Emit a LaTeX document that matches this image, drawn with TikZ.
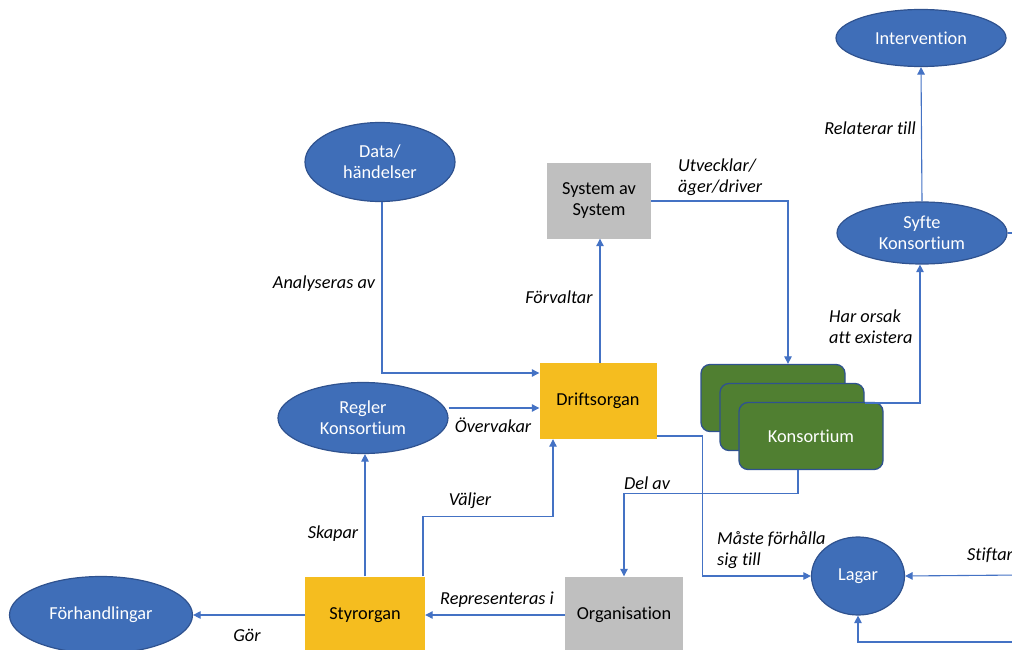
\documentclass[tikz,border=0pt]{standalone}
\usepackage{fontspec}
\setmainfont{Carlito}[Ligatures=NoCommon]
\usetikzlibrary{shapes.geometric,arrows.meta}
\definecolor{blobblue}{HTML}{3F6EB8}
\definecolor{edgeblue}{HTML}{2F528F}
\definecolor{lineblue}{HTML}{4472C4}
\definecolor{orggold}{HTML}{F5BD1F}
\definecolor{orggray}{HTML}{BFBFBF}
\definecolor{konsgreen}{HTML}{507F31}
\tikzset{
	blob/.style={ellipse, draw=edgeblue, fill=blobblue, line width=1.2pt, text=white,
		align=center, inner sep=0pt, font=\fontsize{18.3}{21}\selectfont},
	box/.style={rectangle, inner sep=0pt, align=center, font=\fontsize{18.3}{21}\selectfont},
	kons/.style={rectangle, rounded corners=9pt, draw=edgeblue, fill=konsgreen, line width=1.3pt,
		text=white, minimum width=144pt, minimum height=67pt, font=\fontsize{18.3}{21}\selectfont},
	lbl/.style={align=left, inner sep=0pt, font=\fontsize{18.3}{21}\selectfont\itshape},
	conn/.style={draw=lineblue, line width=1.1pt, -{Triangle[width=7.5pt,length=7.5pt]}},
	wire/.style={draw=lineblue, line width=1.1pt}
}
\begin{document}
\begin{tikzpicture}[x=1pt,y=-1pt]
	\path[use as bounding box, clip] (0,0) rectangle (1012,650);
	\node[blob, minimum width=170pt, minimum height=57pt] at (921,38) (intervention) {Intervention};
	\node[blob, minimum width=170pt, minimum height=62pt] at (922,233) (syfte) {Syfte\\Konsortium};
	\node[blob, minimum width=150pt, minimum height=79pt] at (380,162) (data) {Data/\\händelser};
	\node[blob, minimum width=170pt, minimum height=71pt] at (363,418) (regler) {Regler\\Konsortium};
	\node[blob, minimum width=183pt, minimum height=77pt] at (101,615) (forh) {Förhandlingar};
	\node[blob, minimum width=93pt, minimum height=78pt] at (858,576) (lagar) {Lagar};
	\node[box, fill=orggray, minimum width=104pt, minimum height=75pt] at (599,201) (system) {System av\\System};
	\node[box, fill=orggold, minimum width=117pt, minimum height=76pt] at (598,401) (drift) {Driftsorgan};
	\node[box, fill=orggold, minimum width=120pt, minimum height=77pt] at (365,615) (styr) {Styrorgan};
	\node[box, fill=orggray, minimum width=118pt, minimum height=77pt] at (624,615) (org) {Organisation};
	\node[kons] at (773,398) (konsB) {};
	\node[kons] at (792,417) (konsM) {};
	\node[kons] at (811,436) (konsF) {Konsortium};
	\coordinate (edgeS) at (1020,233);
	\coordinate (edgeL) at (1020,575);
	\coordinate (edgeB) at (1020,642);
	\node[lbl, anchor=west] at (678,177) (utv) {Utvecklar/\\äger/driver};
	\node[lbl, anchor=east] at (916,128) (rel) {Relaterar till};
	\node[lbl, anchor=west] at (829,327) (orsak) {Har orsak\\att existera};
	\node[lbl] at (324,284) (analys) {Analyseras av};
	\node[lbl] at (559,297) (forv) {Förvaltar};
	\node[lbl] at (493,425) (overv) {Övervakar};
	\node[lbl] at (470,501) (valj) {Väljer};
	\node[lbl] at (333,534) (skap) {Skapar};
	\node[lbl] at (647,483) (del) {Del av};
	\node[lbl, anchor=west] at (717,550) (maste) {Måste förhålla\\sig till};
	\node[lbl] at (497,600) (repr) {Representeras i};
	\node[lbl] at (247,635) (gor) {Gör};
	\node[lbl, anchor=west] at (967,555) (stift) {Stiftar};
	\path[conn] (system.east) -| ([xshift=15pt]konsB.north);
	\path[conn] ([xshift=2pt]drift.north) -- ([xshift=2pt]drift.north |- system.south);
	\path[conn] ([xshift=2pt]data.south) |- ([yshift=28pt]drift.west);
	\path[conn] ([yshift=10pt]regler.east) -- ([yshift=10pt]regler.east -| drift.west);
	\path[conn] (styr.north) -- (styr.north |- regler.south);
	\path[conn] ([xshift=58pt]styr.north) -- ++(0,-60) -| ([xshift=-45pt]drift.south);
	\path[conn] (org.west) -- (styr.east);
	\path[conn] (styr.west) -- (forh.east);
	\path[conn] ([xshift=-13pt]konsF.south) -- ++(0,23) -| (org.north);
	\path[conn] ([yshift=-35pt]drift.east) -- ++(46,0) |- (lagar.west);
	\path[conn] ([yshift=14pt]konsM.east) -| ([xshift=-2pt]syfte.south);
	\path[conn] (syfte.north) -- (intervention.south);
	\path[wire] (syfte.east) -- (edgeS);
	\path[conn] (edgeL) -- (lagar.east);
	\path[conn] (edgeB) -| (lagar.south);
\end{tikzpicture}
\end{document}
